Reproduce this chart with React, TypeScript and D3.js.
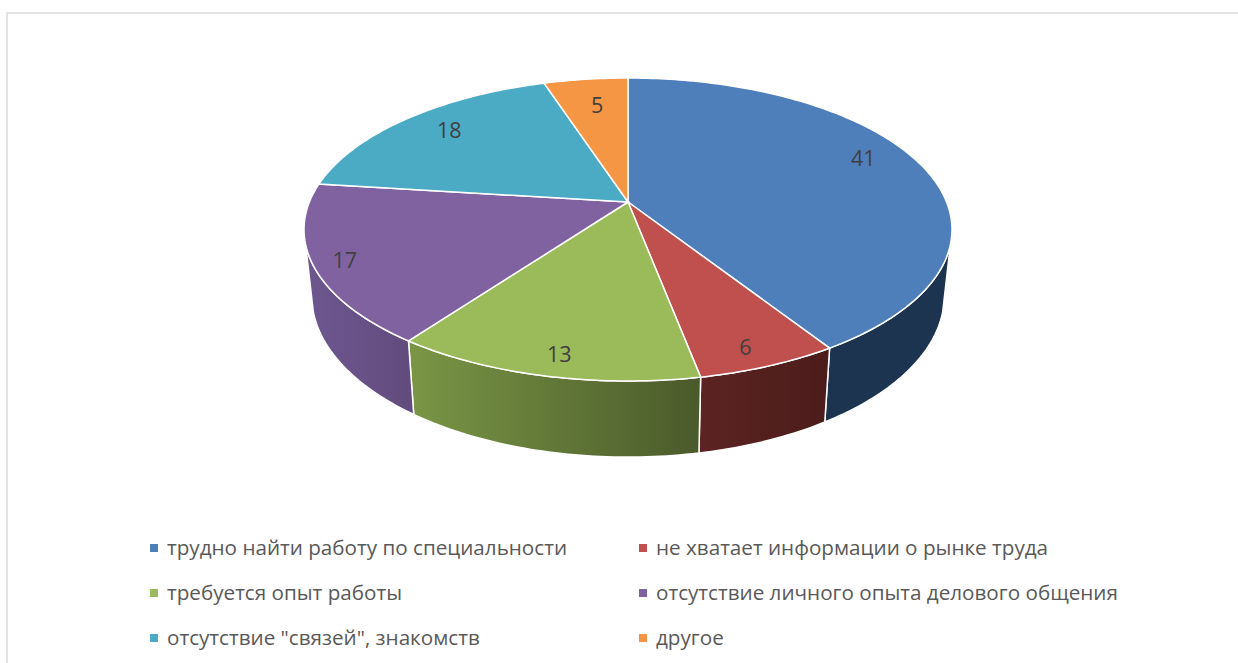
import React from 'react';
import * as d3 from 'd3';

// chart values
const categories = [
  'трудно найти работу по специальности',
  'не хватает информации о рынке труда',
  'требуется опыт работы',
  'отсутствие личного опыта делового общения',
  'отсутствие "связей", знакомств',
  'другое',
];
const values = [41, 6, 13, 17, 18, 5];

const topColors = ['#4f7fbb', '#bf504d', '#9bba59', '#8062a0', '#4babc5', '#f59644'];
const sideStart = ['#1d3450', '#5c2422', '#7a9645', '#6e5790', '#2d6b7c', '#995a27'];
const sideEnd = ['#1d3450', '#4b1c1b', '#4a5a2b', '#624b7c', '#2d6b7c', '#995a27'];

// nudges on top of the projected label anchor
const labelNudge = [[0, -12], [9, 19], [-4, 19], [-35, 9], [1, -3], [4, 4]];

const width = 1238;
const height = 663;

// perspective of the pie disc: top face and the smaller bottom face
const cx = 628;
const tilt = 0.1815;
const topFace = { y0: 202, rx: 318.6, ry: 146.5 };
const bottomFace = { y0: 266.5, rx: 311, ry: 156 };
const deg = Math.PI / 180;
// part of the rim whose wall faces the viewer
const wallFrom = 106 * deg;
const wallTo = 254 * deg;

type Face = { y0: number; rx: number; ry: number };

function project(face: Face, angle: number, r = 1): [number, number] {
  const u = r * Math.sin(angle);
  const v = -r * Math.cos(angle);
  const w = 1 - tilt * v;
  return [cx + (face.rx * u) / w, face.y0 + (face.ry * v) / w];
}

function sweep(a0: number, a1: number) {
  const n = Math.max(2, Math.ceil(Math.abs(a1 - a0) / deg));
  return d3.range(n + 1).map((i) => a0 + ((a1 - a0) * i) / n);
}

const arcs = d3.pie<number>().sort(null)(values);
const line = d3.line();

const legendX = d3.scalePoint<number>().domain([0, 1]).range([150, 639]);
const legendY = d3.scalePoint<number>().domain([0, 1, 2]).range([555, 645]);

const font = '"Open Sans", sans-serif';

export default function App() {
  return (
    <svg
      width={width}
      height={height}
      style={{ position: 'absolute', left: 0, top: 0, display: 'block', background: '#fff' }}
    >
      <defs>
        {arcs.map((d, i) => (
          <linearGradient id={`wall${i}`} key={i}>
            <stop offset="0%" stopColor={sideStart[i]} />
            <stop offset="100%" stopColor={sideEnd[i]} />
          </linearGradient>
        ))}
      </defs>

      <path d={`M7,${height + 5}V13H${width + 5}`} fill="none" stroke="#dcdcdc" strokeWidth={1.6} />

      {/* walls first, the top face hides everything behind it */}
      {arcs.map((d, i) => {
        const a0 = Math.max(d.startAngle, wallFrom);
        const a1 = Math.min(d.endAngle, wallTo);
        if (a1 <= a0) return null;
        const pts = [
          ...sweep(a0, a1).map((a) => project(topFace, a)),
          ...sweep(a1, a0).map((a) => project(bottomFace, a)),
        ];
        return (
          <path key={i} d={line(pts) + 'Z'} fill={`url(#wall${i})`} stroke="#fff" strokeWidth={1.5} />
        );
      })}

      {arcs.map((d, i) => {
        const pts: [number, number][] = [
          [cx, topFace.y0],
          ...sweep(d.startAngle, d.endAngle).map((a) => project(topFace, a)),
        ];
        return <path key={i} d={line(pts) + 'Z'} fill={topColors[i]} stroke="#fff" strokeWidth={1.5} />;
      })}

      {arcs.map((d, i) => {
        const [x, y] = project(topFace, (d.startAngle + d.endAngle) / 2, 0.8);
        return (
          <text
            key={i}
            x={x + labelNudge[i][0]}
            y={y + labelNudge[i][1]}
            dy="0.36em"
            textAnchor="middle"
            fontFamily={font}
            fontSize={21.5}
            fill="#404040"
          >
            {d.data}
          </text>
        );
      })}

      {categories.map((name, i) => {
        const col = i % 2;
        const row = Math.floor(i / 2);
        const x = legendX(col) as number;
        const y = legendY(row) as number;
        return (
          <g key={name}>
            <rect x={x} y={y - 11} width={8} height={8} fill={topColors[i]} />
            <text x={x + 17} y={y} fontFamily={font} fontSize={20.65} fill="#595959">
              {name}
            </text>
          </g>
        );
      })}
    </svg>
  );
}
